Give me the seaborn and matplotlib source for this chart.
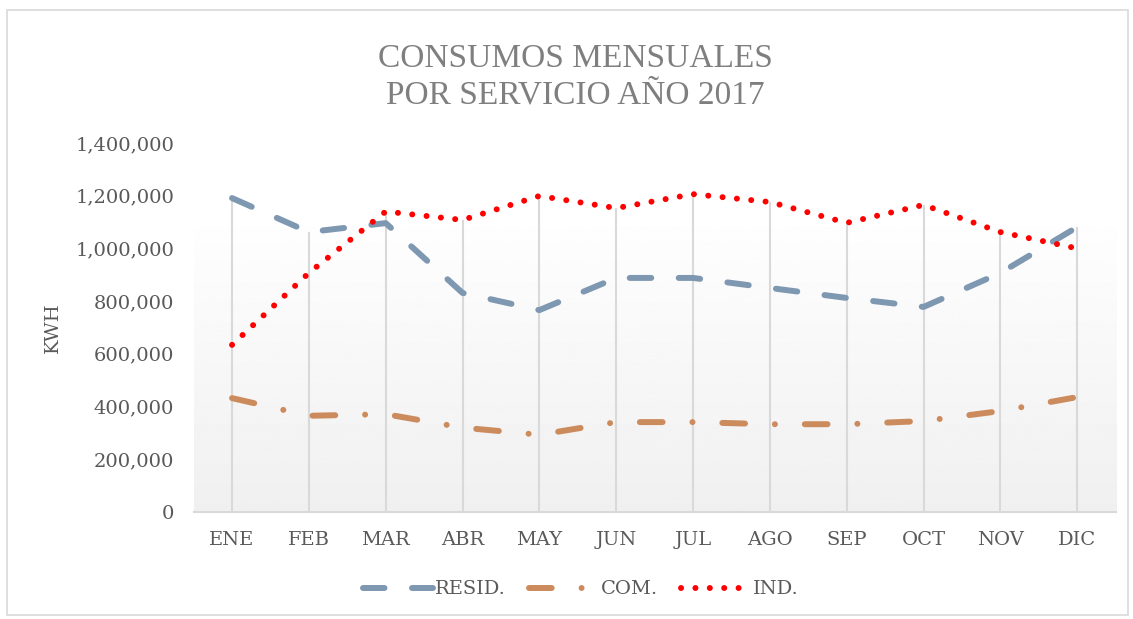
import numpy as np
import pandas as pd
import matplotlib
matplotlib.use("Agg")
import matplotlib.pyplot as plt
from matplotlib.patches import Rectangle
from matplotlib.ticker import FuncFormatter
import seaborn as sns

# datos
meses = ["ENE", "FEB", "MAR", "ABR", "MAY", "JUN", "JUL", "AGO", "SEP", "OCT", "NOV", "DIC"]
resid = [1191000, 1062000, 1096000, 831000, 766000, 888000, 888000, 850000, 812000, 778000, 907000, 1081000]
com = [432000, 365000, 371000, 320000, 293000, 341000, 341000, 333000, 333000, 345000, 383000, 436000]
ind = [634000, 907000, 1140000, 1108000, 1199000, 1153000, 1206000, 1176000, 1097000, 1165000, 1062000, 1000000]
series = ["RESID.", "COM.", "IND."]

df = pd.DataFrame({"mes": meses * 3,
                   "kwh": resid + com + ind,
                   "serv": np.repeat(series, len(meses))})

sns.set_theme(style="white")
plt.rcParams["font.family"] = ["DejaVu Serif"]

colores = {"RESID.": "#7f98b1", "COM.": "#cc8b5c", "IND.": "#ff0000"}
dashes = {"RESID.": (3.6, 4.6), "COM.": (3.8, 5.0, 0.01, 5.0), "IND.": (0.01, 2.4)}

fig = plt.figure(figsize=(11.33, 6.19), dpi=100)
fig.patches.append(Rectangle((0.006, 0.006), 0.99, 0.978, transform=fig.transFigure,
                             fill=False, edgecolor="#d9d9d9", linewidth=1.2))
ax = fig.add_axes([0.1709, 0.1729, 0.8138, 0.5961])

# fondo degradado del area de trazado
grad = np.linspace(0.94, 0.995, 200).reshape(-1, 1)
ax.imshow(grad, cmap="gray", vmin=0, vmax=1, aspect="auto",
          extent=[-0.5, 11.5, 0, 1080000], origin="lower", zorder=0)

# lineas de caida
tope = np.max([resid, com, ind], axis=0)
ax.vlines(range(len(meses)), 0, tope, color="#d9d9d9", linewidth=1.5, zorder=1)

sns.lineplot(data=df, x="mes", y="kwh", hue="serv", style="serv", palette=colores,
             dashes=dashes, sort=False, linewidth=4.3, ax=ax, legend=False,
             dash_capstyle="round", solid_capstyle="round", zorder=3)

ax.set_xlim(-0.5, 11.5)
ax.set_ylim(0, 1400000)
ax.set_yticks(range(0, 1400001, 200000))
ax.yaxis.set_major_formatter(FuncFormatter(lambda v, p: f"{int(v):,}"))
ax.set_xticks(range(len(meses)))
ax.set_xticklabels(meses)
ax.tick_params(axis="both", length=0, labelsize=14, labelcolor="#595959")
ax.tick_params(axis="y", pad=14)
ax.tick_params(axis="x", pad=14)
ax.set_xlabel("")
ax.set_ylabel("KWH", fontsize=14, color="#595959")
ax.yaxis.set_label_coords(-0.143, 0.5)
for s in ["top", "right", "left"]:
    ax.spines[s].set_visible(False)
ax.spines["bottom"].set_color("#d9d9d9")
ax.spines["bottom"].set_linewidth(1.5)
ax.set_facecolor("white")

fig.text(0.508, 0.875, "CONSUMOS MENSUALES\nPOR SERVICIO AÑO 2017", ha="center", va="center",
         fontsize=24, color="#7f7f7f", linespacing=1.25,
         family=["Liberation Serif", "DejaVu Serif"])

ax.legend(handles=ax.lines[:3], labels=series, loc="center", bbox_to_anchor=(0.42, -0.21),
          ncol=3, frameon=False, fontsize=14, handlelength=3.6, columnspacing=1.2,
          handletextpad=0.1, labelcolor="#595959")

fig.savefig("out.png", dpi=100)
